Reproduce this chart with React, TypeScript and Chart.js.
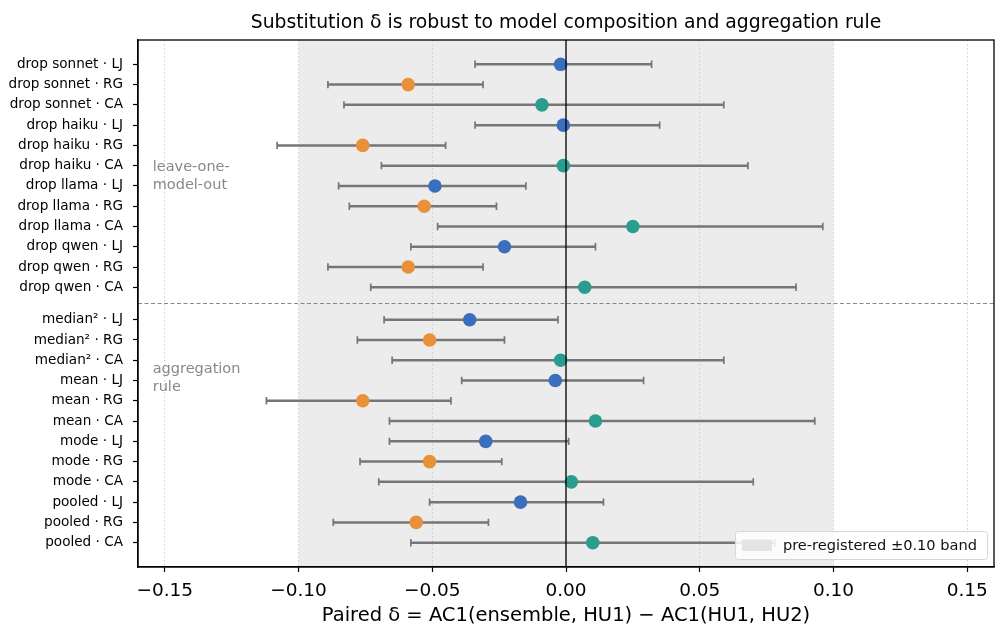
import React, { useEffect, useRef } from "react";
import { Chart, registerables } from "chart.js";
Chart.register(...registerables);

const rowLabels = [
  "drop sonnet · LJ", "drop sonnet · RG", "drop sonnet · CA",
  "drop haiku · LJ", "drop haiku · RG", "drop haiku · CA",
  "drop llama · LJ", "drop llama · RG", "drop llama · CA",
  "drop qwen · LJ", "drop qwen · RG", "drop qwen · CA",
  "median² · LJ", "median² · RG", "median² · CA",
  "mean · LJ", "mean · RG", "mean · CA",
  "mode · LJ", "mode · RG", "mode · CA",
  "pooled · LJ", "pooled · RG", "pooled · CA",
];
const estimates = [
  -0.002, -0.059, -0.009, -0.001, -0.076, -0.001, -0.049, -0.053, 0.025, -0.023, -0.059, 0.007,
  -0.036, -0.051, -0.002, -0.004, -0.076, 0.011, -0.030, -0.051, 0.002, -0.017, -0.056, 0.010,
];
const lowerCI = [
  -0.034, -0.089, -0.083, -0.034, -0.108, -0.069, -0.085, -0.081, -0.048, -0.058, -0.089, -0.073,
  -0.068, -0.078, -0.065, -0.039, -0.112, -0.066, -0.066, -0.077, -0.070, -0.051, -0.087, -0.058,
];
const upperCI = [
  0.032, -0.031, 0.059, 0.035, -0.045, 0.068, -0.015, -0.026, 0.096, 0.011, -0.031, 0.086,
  -0.003, -0.023, 0.059, 0.029, -0.043, 0.093, 0.001, -0.024, 0.070, 0.014, -0.029, 0.078,
];
const xTicks = [-0.15, -0.1, -0.05, 0, 0.05, 0.1, 0.15];
const groupSize = 12;
const groupGap = 0.6;
const bandHalf = 0.1;
const groupNotes = [
  { lines: ["leave-one-", "model-out"], x: -0.1545, y: 5.5 },
  { lines: ["aggregation", "rule"], x: -0.1545, y: 15.5 },
];
const titleText = "Substitution δ is robust to model composition and aggregation rule";
const xTitle = "Paired δ = AC1(ensemble, HU1) − AC1(HU1, HU2)";
const legendText = "pre-registered ±0.10 band";

const metricColor: Record<string, string> = { LJ: "#3a6fbd", RG: "#e8913a", CA: "#2a9d8f" };
const FONT = "'DejaVu Sans', sans-serif";

const yPos = rowLabels.map((_, i) => i + (i >= groupSize ? groupGap : 0));

export default function App() {
  const ref = useRef<HTMLCanvasElement | null>(null);
  useEffect(() => {
    document.body.style.margin = "0";
    const canvas = ref.current!;
    const colors = rowLabels.map((l) => metricColor[l.split(" · ")[1]]);

    const decor = {
      id: "decor",
      beforeDraw(chart: any) {
        const { ctx, chartArea: a, scales } = chart;
        const x = scales.x;
        ctx.save();
        ctx.fillStyle = "#fff";
        ctx.fillRect(0, 0, chart.width, chart.height);
        ctx.fillStyle = "#ececec";
        const x0 = x.getPixelForValue(-bandHalf);
        const x1 = x.getPixelForValue(bandHalf);
        ctx.fillRect(x0, a.top, x1 - x0, a.bottom - a.top);
        ctx.restore();
      },
      beforeDatasetsDraw(chart: any) {
        const { ctx, chartArea: a, scales } = chart;
        const x = scales.x, y = scales.y;
        ctx.save();
        const sy = y.getPixelForValue(groupSize - 1 + (1 + groupGap) / 2);
        ctx.strokeStyle = "#888";
        ctx.lineWidth = 1;
        ctx.setLineDash([4, 2.5]);
        ctx.beginPath();
        ctx.moveTo(a.left, sy);
        ctx.lineTo(a.right, sy);
        ctx.stroke();
        ctx.setLineDash([]);
        ctx.strokeStyle = "#767676";
        for (let i = 0; i < rowLabels.length; i++) {
          const py = y.getPixelForValue(yPos[i]);
          const lx = x.getPixelForValue(lowerCI[i]);
          const hx = x.getPixelForValue(upperCI[i]);
          ctx.lineWidth = 2.5;
          ctx.beginPath();
          ctx.moveTo(lx, py);
          ctx.lineTo(hx, py);
          ctx.stroke();
          ctx.lineWidth = 1.7;
          ctx.beginPath();
          ctx.moveTo(lx, py - 3.7);
          ctx.lineTo(lx, py + 3.7);
          ctx.moveTo(hx, py - 3.7);
          ctx.lineTo(hx, py + 3.7);
          ctx.stroke();
        }
        ctx.restore();
      },
      afterDatasetsDraw(chart: any) {
        const { ctx, chartArea: a, scales } = chart;
        const zx = scales.x.getPixelForValue(0);
        ctx.save();
        ctx.strokeStyle = "#000";
        ctx.lineWidth = 1.3;
        ctx.beginPath();
        ctx.moveTo(zx, a.top);
        ctx.lineTo(zx, a.bottom);
        ctx.stroke();
        ctx.restore();
      },
      afterDraw(chart: any) {
        const { ctx, chartArea: a, scales } = chart;
        const x = scales.x, y = scales.y;
        ctx.save();
        ctx.fillStyle = "#888";
        ctx.font = `14.5px ${FONT}`;
        ctx.textAlign = "left";
        ctx.textBaseline = "middle";
        for (const g of groupNotes) {
          const gx = x.getPixelForValue(g.x);
          const gy = y.getPixelForValue(g.y);
          const lh = 18;
          g.lines.forEach((t, k) => {
            ctx.fillText(t, gx, gy + (k - (g.lines.length - 1) / 2) * lh);
          });
        }
        ctx.font = `14.6px ${FONT}`;
        const tw = ctx.measureText(legendText).width;
        const lw = tw + 58, lh = 28;
        const lx = a.right - 7 - lw, ly = a.bottom - 8 - lh;
        ctx.fillStyle = "rgba(255,255,255,0.85)";
        ctx.strokeStyle = "#d6d6d6";
        ctx.lineWidth = 1;
        ctx.beginPath();
        (ctx as any).roundRect(lx + 0.5, ly + 0.5, lw, lh, 3);
        ctx.fill();
        ctx.stroke();
        ctx.fillStyle = "#e4e4e4";
        ctx.fillRect(lx + 7, ly + 8.5, 30, 11.5);
        ctx.fillStyle = "#111";
        ctx.textBaseline = "middle";
        ctx.fillText(legendText, lx + 48, ly + lh / 2 + 1);
        ctx.strokeStyle = "#000";
        ctx.lineWidth = 1.3;
        ctx.strokeRect(a.left, a.top, a.right - a.left, a.bottom - a.top);
        ctx.fillStyle = "#000";
        ctx.font = `18.8px ${FONT}`;
        ctx.textAlign = "center";
        ctx.textBaseline = "alphabetic";
        ctx.fillText(titleText, (a.left + a.right) / 2, 28);
        ctx.restore();
      },
    };

    const chart = new Chart(canvas, {
      type: "scatter",
      data: {
        datasets: [
          {
            data: estimates.map((v, i) => ({ x: v, y: yPos[i] })),
            pointBackgroundColor: colors,
            pointBorderWidth: 0,
            pointRadius: 6.8,
            pointHoverRadius: 6.8,
          },
        ],
      },
      options: {
        animation: false,
        responsive: false,
        maintainAspectRatio: false,
        events: [],
        layout: { autoPadding: false, padding: { top: 40, right: 1, left: 0, bottom: 0 } },
        plugins: { legend: { display: false }, tooltip: { enabled: false }, title: { display: false } },
        scales: {
          x: {
            type: "linear",
            min: -0.16,
            max: 0.16,
            afterBuildTicks: (s: any) => {
              s.ticks = xTicks.map((v) => ({ value: v }));
            },
            afterFit: (s: any) => {
              s.height = 61;
              s.paddingLeft = 0;
              s.paddingRight = 0;
            },
            ticks: {
              font: { family: FONT, size: 18.5 },
              color: "#000",
              padding: 8,
              maxRotation: 0,
              autoSkip: false,
              callback: (v: any) => {
                const n = Number(v);
                const s = Math.abs(n).toFixed(2);
                return n < -1e-9 ? "−" + s : s;
              },
            },
            grid: {
              color: "#cfcfcf",
              lineWidth: 1,
              drawTicks: true,
              tickLength: 5,
              tickColor: "#000",
              tickWidth: 1.2,
            },
            border: { display: true, color: "#000", width: 1.3, dash: [1.5, 2.5] },
            title: {
              display: true,
              text: xTitle,
              font: { family: FONT, size: 19.5, lineHeight: 1 },
              color: "#000",
              padding: { top: 0, bottom: 2 },
            },
          },
          y: {
            type: "linear",
            reverse: true,
            min: -1.2,
            max: yPos[yPos.length - 1] + 1.2,
            afterBuildTicks: (s: any) => {
              s.ticks = yPos.map((v) => ({ value: v }));
            },
            afterFit: (s: any) => {
              s.width = 138;
              s.paddingTop = 0;
              s.paddingBottom = 0;
            },
            ticks: {
              font: { family: FONT, size: 13.6 },
              color: "#000",
              padding: 10,
              autoSkip: false,
              callback: (_v: any, i: number) => rowLabels[i],
            },
            grid: {
              drawOnChartArea: false,
              drawTicks: true,
              tickLength: 5,
              tickColor: "#000",
              tickWidth: 1.2,
            },
            border: { display: true, color: "#000", width: 1.3 },
          },
        },
      },
      plugins: [decor],
    } as any);
    return () => chart.destroy();
  }, []);
  return <canvas ref={ref} width={995} height={628} style={{ display: "block" }} />;
}
